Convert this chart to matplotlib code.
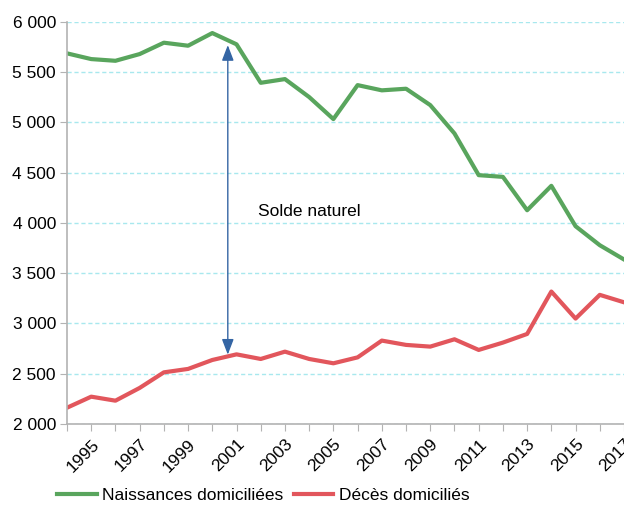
import matplotlib
matplotlib.use("Agg")
import matplotlib.pyplot as plt
from matplotlib.ticker import FuncFormatter, MultipleLocator

plt.rcParams['font.family'] = ['Liberation Sans', 'DejaVu Sans']

years = list(range(1994, 2018))
naissances = [5688, 5631, 5614, 5681, 5794, 5764, 5890, 5778, 5395, 5432,
              5253, 5034, 5372, 5320, 5336, 5173, 4891, 4476, 4459, 4127,
              4370, 3968, 3779, 3637]
deces = [2162, 2272, 2232, 2359, 2514, 2548, 2637, 2693, 2647, 2720,
         2647, 2604, 2663, 2830, 2787, 2770, 2843, 2737, 2810, 2896,
         3318, 3049, 3285, 3211]
label_births = "Naissances domiciliées"
label_deaths = "Décès domiciliés"
annotation = "Solde naturel"
arrow_year = 2000.64
arrow_top = 5770
arrow_bottom = 2690

green = "#59a55d"
red = "#e2565c"
blue = "#3465a4"
grey = "#b3b3b3"
fs = 12.5

fig = plt.figure(figsize=(6.24, 5.05), dpi=100)
ax = fig.add_axes([67/624, 1-424/505, 1-67/624, (424-22)/505])

ax.plot(years, naissances, color=green, lw=3, label=label_births, solid_joinstyle='round')
ax.plot(years, deces, color=red, lw=3, label=label_deaths, solid_joinstyle='round')

ax.annotate("", xy=(arrow_year, arrow_top), xytext=(arrow_year, arrow_bottom),
            arrowprops=dict(arrowstyle="<|-|>,head_length=0.47,head_width=0.18", color=blue, lw=1,
                            mutation_scale=20, shrinkA=0, shrinkB=0))
ax.text(2001.89, 4110, annotation, fontsize=fs, va='center', ha='left', color='black')

ax.set_xlim(1994, 2017)
ax.set_ylim(2000, 6000)
ax.yaxis.set_major_locator(MultipleLocator(500))
ax.yaxis.set_major_formatter(FuncFormatter(lambda v, p: f"{int(v):,}".replace(",", " ")))
ax.set_xticks(years)
ax.set_xticklabels([str(y) if y % 2 == 1 else "" for y in years],
                   rotation=45, ha='right', rotation_mode='anchor', fontsize=fs)
ax.tick_params(axis='y', labelsize=fs, length=5, color=grey, pad=3)
ax.tick_params(axis='x', length=5, color=grey, pad=4)

ax.grid(axis='y', color='#a8e8ee', linestyle=(0, (3, 2)), lw=1)
ax.set_axisbelow(True)
for s in ['top', 'right']:
    ax.spines[s].set_visible(False)
for s in ['left', 'bottom']:
    ax.spines[s].set_color(grey)
    ax.spines[s].set_linewidth(1.2)

fig.legend(loc='center', bbox_to_anchor=(263/624, 1-495.5/505), ncol=2, frameon=False,
           fontsize=fs, handlelength=2.3, columnspacing=0.6, handletextpad=0.3)

fig.savefig("out.png", dpi=100)
